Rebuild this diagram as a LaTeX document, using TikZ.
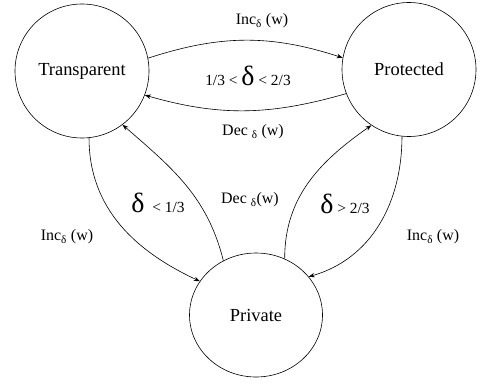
\documentclass[tikz,border=0pt]{standalone}
\usepackage{fontspec}
\setmainfont{Liberation Serif}
\usetikzlibrary{arrows.meta,shapes.geometric}
\newcommand{\bigdelta}{{\fontsize{28}{28}\selectfont δ}}
\begin{document}
\begin{tikzpicture}[x=1bp,y=1bp,
  state/.style={draw, line width=0.6bp, inner sep=0pt, font=\fontsize{18.5}{21}\selectfont},
  lbl/.style={inner sep=0pt, font=\fontsize{16}{18}\selectfont},
  rel/.style={inner sep=0pt, font=\fontsize{15.5}{18}\selectfont},
  conn/.style={line width=0.6bp, -{Stealth[length=6bp,width=4.5bp]}},
]
\useasboundingbox (0,0) rectangle (484,385);
\node[state, circle, minimum size=134bp] (T) at (82,314) {Transparent};
\node[state, circle, minimum size=134bp] (P) at (409,315.5) {Protected};
\node[state, ellipse, minimum width=133bp, minimum height=124bp] (Pr) at (256,70) {Private};

\draw[conn] (T.11) to[out=18,in=162] (P.170);
\draw[conn] (P.201) to[out=196,in=-16] (T.-21);
\draw[conn] (T.-84) to[out=-90,in=155] (Pr.149);
\draw[conn] (Pr.121) to[out=104,in=-41] (T.-53);
\draw[conn] (Pr.63) to[out=90,in=-145] (P.-124);
\draw[conn] (P.-96) to[out=-90,in=16] (Pr.36);

\node[lbl] (l1) at (262,364) {Inc\textsubscript{δ} (w)};
\node[rel] (l2) at (248,309) {1/3 <~\bigdelta~< 2/3};
\node[lbl] (l3) at (253,253) {Dec \textsubscript{δ} (w)};
\node[lbl] (l4) at (250,185) {Dec \textsubscript{δ}(w)};
\node[rel] (l5) at (158,182) {\bigdelta~ < 1/3};
\node[rel] (l6) at (345,181) {\bigdelta~> 2/3};
\node[lbl] (l7) at (67,148) {Inc\textsubscript{δ} (w)};
\node[lbl] (l8) at (433,148) {Inc\textsubscript{δ} (w)};
\end{tikzpicture}
\end{document}
